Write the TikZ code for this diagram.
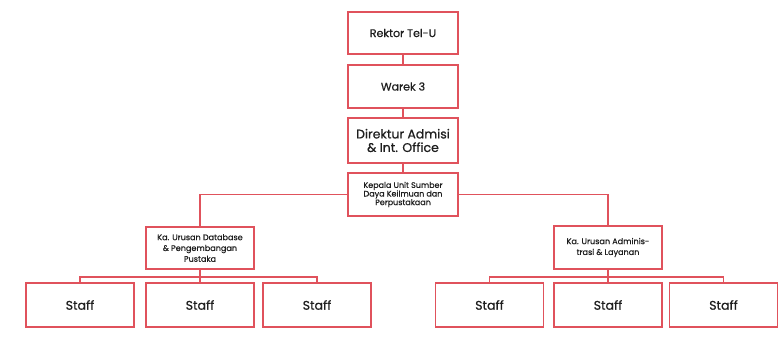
\documentclass[tikz,border=0pt]{standalone}
\usepackage{fontspec}
\setmainfont{Poppins}[FakeBold=0.6]
\definecolor{lred}{RGB}{224,82,92}
\definecolor{txt}{RGB}{30,30,30}
\begin{document}
\begin{tikzpicture}[x=1pt,y=-1pt,
  box/.style={draw=lred,line width=1.8pt,fill=white,rectangle,inner sep=1pt,align=center,text=txt},
  big/.style={box,font=\fontsize{11}{13}\selectfont},
  dirf/.style={box,font=\fontsize{12.5}{13.5}\selectfont},
  small/.style={box,font=\fontsize{8}{8.6}\selectfont},
  mid/.style={box,font=\fontsize{8.1}{10.8}\selectfont},
  staff/.style={box,minimum width=108pt,minimum height=44pt,font=\fontsize{12.5}{14}\selectfont},
  conn/.style={draw=lred,line width=1.8pt}]
\useasboundingbox (0,0) rectangle (784,359);
\fill[white] (0,0) rectangle (784,359);
\node[big,minimum width=110pt,minimum height=42pt] (rektor) at (403,33) {Rektor Tel-U};
\node[big,minimum width=110pt,minimum height=43pt] (warek) at (403,86.5) {Warek 3};
\node[dirf,minimum width=110pt,minimum height=45pt] (dir) at (403,140.5) {Direktur Admisi\\\& Int. Office};
\node[small,minimum width=110pt,minimum height=43pt] (kep) at (403,194.5) {Kepala Unit Sumber\\Daya Keilmuan dan\\Perpustakaan};
\node[mid,minimum width=108pt,minimum height=42pt] (db) at (200,248) {Ka. Urusan Database\\\& Pengembangan\\Pustaka};
\node[mid,minimum width=108pt,minimum height=43pt] (adm) at (608,247.5) {Ka. Urusan Adminis-\\trasi \& Layanan};
\node[staff] (s1) at (80,305) {Staff};
\node[staff] (s2) at (200,305) {Staff};
\node[staff] (s3) at (317,305) {Staff};
\node[staff] (s4) at (489.5,305) {Staff};
\node[staff] (s5) at (608,305) {Staff};
\node[staff] (s6) at (723.5,305) {Staff};
\coordinate (lbar) at (200,277);
\coordinate (rbar) at (608,277);
\draw[conn] (rektor.south) -- (warek.north);
\draw[conn] (warek.south) -- (dir.north);
\draw[conn] (dir.south) -- (kep.north);
\draw[conn] (kep.west) -| (db.north);
\draw[conn] (kep.east) -| (adm.north);
\draw[conn] (db.south) -- (s2.north);
\draw[conn] (adm.south) -- (s5.north);
\draw[conn] (s1.north) |- (lbar) -| (s3.north);
\draw[conn] (s4.north) |- (rbar) -| (s6.north);
\end{tikzpicture}
\end{document}
